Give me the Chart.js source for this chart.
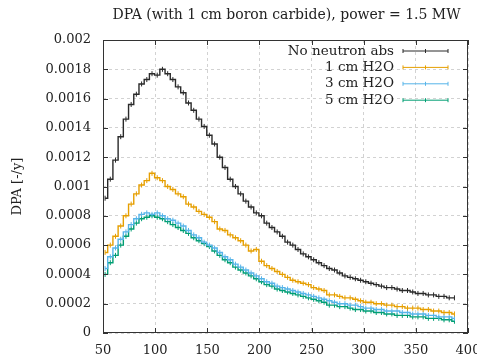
<!DOCTYPE html>
<html lang="en">
<head>
<meta charset="UTF-8">
<title>DPA</title>
<style>
  body { margin: 0; background: #fff; }
  #wrap { width: 477px; height: 354px; }
</style>
<script src="https://cdn.jsdelivr.net/npm/chart.js"></script>
</head>
<body>
<div id="wrap"><canvas id="chartCanvas"></canvas></div>
<script>
const positions = [52, 57, 62, 67, 72, 77, 82, 87, 92, 97, 102, 107, 112, 117, 122, 127, 132, 137, 142, 147,
  152, 157, 162, 167, 172, 177, 182, 187, 192, 197, 202, 207, 212, 217, 222, 227, 232, 237, 242, 247,
  252, 257, 262, 267, 272, 277, 282, 287, 292, 297, 302, 307, 312, 317, 322, 327, 332, 337, 342, 347,
  352, 357, 362, 367, 372, 377, 382, 387];

const noAbs = [0.00092, 0.00105, 0.00118, 0.00134, 0.00146, 0.00156, 0.00163, 0.00170, 0.00173, 0.00177,
  0.00176, 0.00180, 0.00177, 0.00173, 0.00168, 0.00164, 0.00157, 0.00152, 0.00146, 0.00141,
  0.00135, 0.00129, 0.00120, 0.00113, 0.00105, 0.00100, 0.00095, 0.00090, 0.00086, 0.00082,
  0.00080, 0.00075, 0.00072, 0.00069, 0.00066, 0.00062, 0.00060, 0.00057, 0.00054, 0.00052,
  0.00050, 0.00048, 0.00046, 0.00044, 0.00043, 0.00041, 0.00039, 0.00038, 0.00037, 0.00036,
  0.00035, 0.00034, 0.00033, 0.00032, 0.00031, 0.00031, 0.00030, 0.00029, 0.00029, 0.00028,
  0.00027, 0.00027, 0.00026, 0.00026, 0.00025, 0.00025, 0.00024, 0.00024];

const h2o1 = [0.00055, 0.00060, 0.00066, 0.00073, 0.00080, 0.00088, 0.00095, 0.00101, 0.00104, 0.00109,
  0.00106, 0.00104, 0.00100, 0.00098, 0.00095, 0.00093, 0.00088, 0.00086, 0.00083, 0.00081,
  0.00079, 0.00076, 0.00071, 0.00070, 0.00067, 0.00065, 0.00063, 0.00060, 0.00056, 0.00057,
  0.00049, 0.00046, 0.00044, 0.00042, 0.00040, 0.00038, 0.00036, 0.00035, 0.00034, 0.00033,
  0.00031, 0.00030, 0.00029, 0.00026, 0.00026, 0.00025, 0.00024, 0.00024, 0.00023, 0.00022,
  0.00021, 0.00021, 0.00020, 0.00020, 0.00019, 0.00019, 0.00018, 0.00018, 0.00017, 0.00017,
  0.00017, 0.00016, 0.00016, 0.00015, 0.00015, 0.00014, 0.00014, 0.00013];

const h2o3 = [0.00044, 0.00052, 0.00058, 0.00064, 0.00069, 0.00074, 0.00078, 0.00081, 0.00082, 0.00081,
  0.00082, 0.00080, 0.00078, 0.00077, 0.00075, 0.00073, 0.00070, 0.00067, 0.00065, 0.00062,
  0.00060, 0.00058, 0.00055, 0.00052, 0.00050, 0.00047, 0.00045, 0.00043, 0.00041, 0.00039,
  0.00037, 0.00035, 0.00034, 0.00032, 0.00031, 0.00030, 0.00029, 0.00028, 0.00027, 0.00026,
  0.00025, 0.00024, 0.00023, 0.00022, 0.00021, 0.00020, 0.00020, 0.00019, 0.00019, 0.00018,
  0.00017, 0.00017, 0.00016, 0.00016, 0.00015, 0.00015, 0.00015, 0.00014, 0.00014, 0.00013,
  0.00013, 0.00013, 0.00012, 0.00012, 0.00011, 0.00011, 0.00011, 0.00010];

const h2o5 = [0.00040, 0.00048, 0.00053, 0.00060, 0.00066, 0.00071, 0.00075, 0.00078, 0.00079, 0.00080,
  0.00079, 0.00078, 0.00076, 0.00074, 0.00072, 0.00070, 0.00068, 0.00065, 0.00063, 0.00061,
  0.00059, 0.00056, 0.00053, 0.00050, 0.00048, 0.00045, 0.00043, 0.00041, 0.00039, 0.00037,
  0.00035, 0.00033, 0.00032, 0.00030, 0.00029, 0.00028, 0.00027, 0.00026, 0.00025, 0.00024,
  0.00023, 0.00022, 0.00021, 0.00019, 0.00019, 0.00018, 0.00018, 0.00017, 0.00016, 0.00016,
  0.00015, 0.00015, 0.00014, 0.00014, 0.00013, 0.00013, 0.00012, 0.00012, 0.00012, 0.00011,
  0.00011, 0.00011, 0.00010, 0.00010, 0.00010, 0.00009, 0.00009, 0.00008];

const seriesNames = ['No neutron abs', '1 cm H2O', '3 cm H2O', '5 cm H2O'];
const seriesColors = ['#2a2a2a', '#e69f00', '#56b4e9', '#009e73'];
const xTicks = [50, 100, 150, 200, 250, 300, 350, 400];
const yTicks = [0, 0.0002, 0.0004, 0.0006, 0.0008, 0.001, 0.0012, 0.0014, 0.0016, 0.0018, 0.002];
const chartTitle = 'DPA (with 1 cm boron carbide), power = 1.5 MW';

const serif = "'DejaVu Serif', serif";

function toPoints(vals) {
  return vals.map((v, i) => ({ x: positions[i], y: v }));
}

// gnuplot-like frame, inward ticks, title and legend
const framePlugin = {
  id: 'frame',
  afterDraw(chart) {
    const ctx = chart.ctx;
    const a = chart.chartArea;
    const xs = chart.scales.x, ys = chart.scales.y;
    ctx.save();
    ctx.strokeStyle = '#333';
    ctx.lineWidth = 1;
    ctx.strokeRect(a.left + 0.5, a.top + 0.5, a.right - a.left - 1, a.bottom - a.top - 1);
    ctx.beginPath();
    xTicks.forEach(v => {
      const px = Math.round(xs.getPixelForValue(v)) + 0.5;
      ctx.moveTo(px, a.bottom); ctx.lineTo(px, a.bottom - 5);
      ctx.moveTo(px, a.top); ctx.lineTo(px, a.top + 5);
    });
    yTicks.forEach(v => {
      const py = Math.round(ys.getPixelForValue(v)) + 0.5;
      ctx.moveTo(a.left, py); ctx.lineTo(a.left + 5, py);
      ctx.moveTo(a.right, py); ctx.lineTo(a.right - 5, py);
    });
    ctx.stroke();

    // title, centred over the plot area
    ctx.fillStyle = '#222';
    ctx.font = '14px ' + serif;
    ctx.textAlign = 'center';
    ctx.textBaseline = 'middle';
    ctx.fillText(chartTitle, (a.left + a.right) / 2 + 1, 15);

    // legend
    ctx.font = '13.5px ' + serif;
    ctx.textAlign = 'right';
    seriesNames.forEach((name, i) => {
      const yy = a.top + 11 + i * 16.4;
      ctx.fillStyle = '#222';
      ctx.fillText(name, a.right - 74, yy);
      const x0 = a.right - 65, x1 = a.right - 20;
      ctx.strokeStyle = seriesColors[i];
      ctx.lineWidth = 1;
      ctx.beginPath();
      ctx.moveTo(x0, yy); ctx.lineTo(x1, yy);
      [x0, (x0 + x1) / 2, x1].forEach(tx => { ctx.moveTo(tx, yy - 2); ctx.lineTo(tx, yy + 2); });
      ctx.stroke();
    });
    ctx.restore();
  }
};

const datasets = [noAbs, h2o1, h2o3, h2o5].map((vals, i) => ({
  label: seriesNames[i],
  data: toPoints(vals),
  borderColor: seriesColors[i],
  backgroundColor: seriesColors[i],
  borderWidth: 1.4,
  stepped: 'middle',
  pointStyle: 'line',
  rotation: 90,
  pointRadius: 2.5,
  pointBorderWidth: 1,
  fill: false
}));

new Chart(document.getElementById('chartCanvas'), {
  type: 'line',
  data: { datasets: datasets },
  options: {
    responsive: true,
    maintainAspectRatio: false,
    animation: false,
    layout: { padding: { top: 40, right: 9, bottom: 0, left: 0 } },
    plugins: {
      legend: { display: false },
      tooltip: { enabled: false },
      title: { display: false }
    },
    scales: {
      x: {
        type: 'linear',
        min: 50,
        max: 400,
        afterBuildTicks: s => { s.ticks = xTicks.map(v => ({ value: v })); },
        afterFit: s => { s.height = 21; s.paddingLeft = 0; s.paddingRight = 0; },
        ticks: { color: '#222', font: { family: serif, size: 13 }, padding: 10, maxRotation: 0 },
        grid: { color: '#d2d2d2', drawTicks: false },
        border: { display: false, dash: [3, 3] }
      },
      y: {
        min: 0,
        max: 0.002,
        afterBuildTicks: s => { s.ticks = yTicks.map(v => ({ value: v })); },
        afterFit: s => { s.width = 103; s.paddingTop = 0; s.paddingBottom = 0; },
        ticks: {
          color: '#222',
          font: { family: serif, size: 13 },
          padding: 12,
          callback: v => String(Number(v.toFixed(4)))
        },
        title: {
          display: true,
          text: 'DPA [-/y]',
          color: '#222',
          font: { family: serif, size: 13 },
          padding: { top: 10, bottom: 0 }
        },
        grid: { color: '#d2d2d2', drawTicks: false },
        border: { display: false, dash: [3, 3] }
      }
    }
  },
  plugins: [framePlugin]
});
</script>
</body>
</html>
